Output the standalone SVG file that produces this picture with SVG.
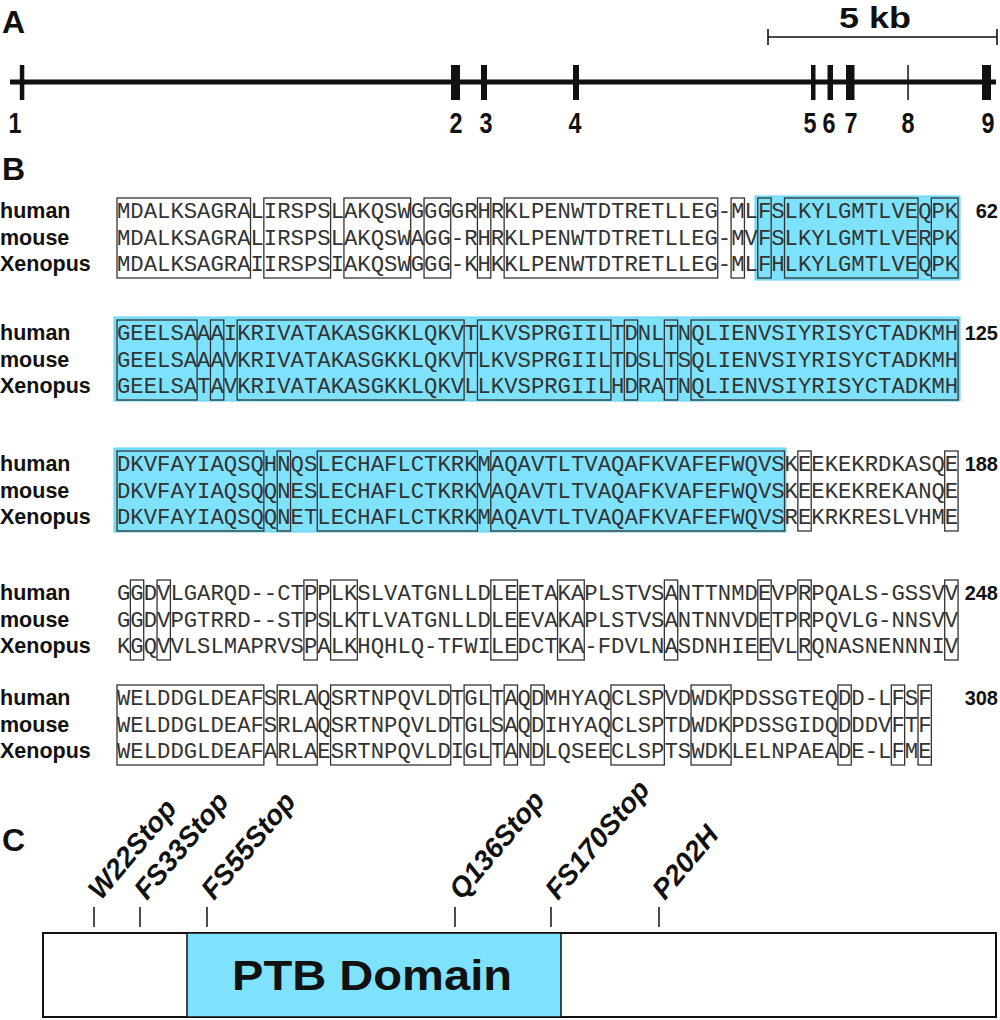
<svg xmlns="http://www.w3.org/2000/svg" width="1000" height="1020" viewBox="0 0 1000 1020">
<style>
.bg{fill:#fff}
.pl{font-family:"Liberation Sans",Arial,sans-serif;font-weight:bold;font-size:32px;fill:#111}
.ex{font-family:"Liberation Sans",Arial,sans-serif;font-weight:bold;font-size:30px;fill:#111;text-anchor:middle}
.seq{font-family:"Liberation Mono","Courier New",monospace;font-size:22.25px;fill:#333}
.lab{font-family:"Liberation Sans",Arial,sans-serif;font-weight:bold;font-size:21.5px;fill:#111}
.num{font-family:"Liberation Sans",Arial,sans-serif;font-weight:bold;font-size:20px;fill:#111;text-anchor:end}
.box{fill:none;stroke:#333;stroke-width:1.3}
.blue{fill:#7fe2fc;stroke:#5fd0f2;stroke-width:1}
.mut{font-family:"Liberation Sans",Arial,sans-serif;font-weight:bold;font-style:italic;font-size:28px;fill:#111}
.tick{stroke:#111;stroke-width:1.5}
</style>
<rect class="bg" x="0" y="0" width="1000" height="1020"/>

<g id="panel-a">
  <text class="pl" x="2" y="33">A</text>
  <text class="ex" x="875" y="28" textLength="72" lengthAdjust="spacingAndGlyphs">5 kb</text>
  <g id="scale-bar" stroke="#111" stroke-width="1.6">
    <line x1="768" y1="37" x2="997" y2="37"/>
    <line x1="768" y1="29" x2="768" y2="45"/>
    <line x1="997" y1="29" x2="997" y2="45"/>
  </g>
  <line id="gene-line" x1="10" y1="82" x2="996" y2="82" stroke="#111" stroke-width="5"/>
  <g id="exons" fill="#111">
    <rect x="19.8" y="65" width="4.5" height="35"/>
    <rect x="451" y="65" width="9" height="35"/>
    <rect x="481" y="65" width="6" height="35"/>
    <rect x="573" y="65" width="6" height="35"/>
    <rect x="811" y="65" width="4.5" height="35"/>
    <rect x="827.5" y="65" width="5.5" height="35"/>
    <rect x="846" y="65" width="8.5" height="35"/>
    <rect x="907.3" y="65" width="1.5" height="35"/>
    <rect x="982" y="65" width="9" height="35"/>
  </g>
  <g id="exon-numbers">
    <text class="ex" x="15" y="133" textLength="13" lengthAdjust="spacingAndGlyphs">1</text>
    <text class="ex" x="456" y="133" textLength="13" lengthAdjust="spacingAndGlyphs">2</text>
    <text class="ex" x="486" y="133" textLength="13" lengthAdjust="spacingAndGlyphs">3</text>
    <text class="ex" x="575" y="133" textLength="13" lengthAdjust="spacingAndGlyphs">4</text>
    <text class="ex" x="810" y="133" textLength="13" lengthAdjust="spacingAndGlyphs">5</text>
    <text class="ex" x="829" y="133" textLength="13" lengthAdjust="spacingAndGlyphs">6</text>
    <text class="ex" x="851" y="133" textLength="13" lengthAdjust="spacingAndGlyphs">7</text>
    <text class="ex" x="908" y="133" textLength="13" lengthAdjust="spacingAndGlyphs">8</text>
    <text class="ex" x="988" y="133" textLength="13" lengthAdjust="spacingAndGlyphs">9</text>
  </g>
</g>

<g id="panel-b">
  <text class="pl" x="2" y="180">B</text>

  <g id="block-1">
    <rect class="blue" x="755" y="196" width="205" height="84"/>
    <g class="boxes">
      <rect class="box" x="117" y="198" width="133.5" height="80"/>
      <rect class="box" x="263.85" y="198" width="66.75" height="80"/>
      <rect class="box" x="343.95" y="198" width="66.75" height="80"/>
      <rect class="box" x="424.05" y="198" width="26.7" height="80"/>
      <rect class="box" x="477.45" y="198" width="13.35" height="80"/>
      <rect class="box" x="504.15" y="198" width="213.6" height="80"/>
      <rect class="box" x="731.1" y="198" width="13.35" height="80"/>
      <rect class="box" x="757.8" y="198" width="13.35" height="80"/>
      <rect class="box" x="784.5" y="198" width="133.5" height="80"/>
      <rect class="box" x="931.35" y="198" width="26.7" height="80"/>
    </g>
    <text class="lab" x="0" y="218">human</text>
    <text class="lab" x="0" y="244.6">mouse</text>
    <text class="lab" x="0" y="271.2">Xenopus</text>
    <text class="seq" x="117" y="218">MDALKSAGRALIRSPSLAKQSWGGGGRHRKLPENWTDTRETLLEG-MLFSLKYLGMTLVEQPK</text>
    <text class="seq" x="117" y="244.6">MDALKSAGRALIRSPSLAKQSWAGG-RHRKLPENWTDTRETLLEG-MVFSLKYLGMTLVERPK</text>
    <text class="seq" x="117" y="271.2">MDALKSAGRAIIRSPSIAKQSWGGG-KHKKLPENWTDTRETLLEG-MLFHLKYLGMTLVEQPK</text>
    <text class="num" x="998" y="218">62</text>
  </g>

  <g id="block-2">
    <rect class="blue" x="114" y="317" width="846" height="84"/>
    <g class="boxes">
      <rect class="box" x="117" y="320" width="80.1" height="80"/>
      <rect class="box" x="210.45" y="320" width="13.35" height="80"/>
      <rect class="box" x="237.15" y="320" width="226.95" height="80"/>
      <rect class="box" x="477.45" y="320" width="133.5" height="80"/>
      <rect class="box" x="624.3" y="320" width="13.35" height="80"/>
      <rect class="box" x="664.35" y="320" width="13.35" height="80"/>
      <rect class="box" x="691.05" y="320" width="267" height="80"/>
    </g>
    <text class="lab" x="0" y="340">human</text>
    <text class="lab" x="0" y="366.6">mouse</text>
    <text class="lab" x="0" y="393.2">Xenopus</text>
    <text class="seq" x="117" y="340">GEELSAAAIKRIVATAKASGKKLQKVTLKVSPRGIILTDNLTNQLIENVSIYRISYCTADKMH</text>
    <text class="seq" x="117" y="366.6">GEELSAAAVKRIVATAKASGKKLQKVTLKVSPRGIILTDSLTSQLIENVSIYRISYCTADKMH</text>
    <text class="seq" x="117" y="393.2">GEELSATAVKRIVATAKASGKKLQKVLLKVSPRGIILHDRATNQLIENVSIYRISYCTADKMH</text>
    <text class="num" x="998" y="340">125</text>
  </g>

  <g id="block-3">
    <rect class="blue" x="114" y="448" width="672" height="84"/>
    <g class="boxes">
      <rect class="box" x="117" y="451" width="146.85" height="80"/>
      <rect class="box" x="277.2" y="451" width="13.35" height="80"/>
      <rect class="box" x="317.25" y="451" width="160.2" height="80"/>
      <rect class="box" x="490.8" y="451" width="293.7" height="80"/>
      <rect class="box" x="797.85" y="451" width="13.35" height="80"/>
      <rect class="box" x="944.7" y="451" width="13.35" height="80"/>
    </g>
    <text class="lab" x="0" y="471">human</text>
    <text class="lab" x="0" y="497.6">mouse</text>
    <text class="lab" x="0" y="524.2">Xenopus</text>
    <text class="seq" x="117" y="471">DKVFAYIAQSQHNQSLECHAFLCTKRKMAQAVTLTVAQAFKVAFEFWQVSKEEKEKRDKASQE</text>
    <text class="seq" x="117" y="497.6">DKVFAYIAQSQQNESLECHAFLCTKRKVAQAVTLTVAQAFKVAFEFWQVSKEEKEKREKANQE</text>
    <text class="seq" x="117" y="524.2">DKVFAYIAQSQQNETLECHAFLCTKRKMAQAVTLTVAQAFKVAFEFWQVSREKRKRESLVHME</text>
    <text class="num" x="998" y="471">188</text>
  </g>

  <g id="block-4">
    <g class="boxes">
      <rect class="box" x="130.35" y="580" width="13.35" height="80"/>
      <rect class="box" x="157.05" y="580" width="13.35" height="80"/>
      <rect class="box" x="303.9" y="580" width="13.35" height="80"/>
      <rect class="box" x="330.6" y="580" width="26.7" height="80"/>
      <rect class="box" x="490.8" y="580" width="26.7" height="80"/>
      <rect class="box" x="557.55" y="580" width="26.7" height="80"/>
      <rect class="box" x="664.35" y="580" width="13.35" height="80"/>
      <rect class="box" x="757.8" y="580" width="13.35" height="80"/>
      <rect class="box" x="797.85" y="580" width="13.35" height="80"/>
      <rect class="box" x="944.7" y="580" width="13.35" height="80"/>
    </g>
    <text class="lab" x="0" y="600">human</text>
    <text class="lab" x="0" y="626.6">mouse</text>
    <text class="lab" x="0" y="653.2">Xenopus</text>
    <text class="seq" x="117" y="600">GGDVLGARQD--CTPPLKSLVATGNLLDLEETAKAPLSTVSANTTNMDEVPRPQALS-GSSVV</text>
    <text class="seq" x="117" y="626.6">GGDVPGTRRD--STPSLKTLVATGNLLDLEEVAKAPLSTVSANTNNVDETPRPQVLG-NNSVV</text>
    <text class="seq" x="117" y="653.2">KGQVVLSLMAPRVSPALKHQHLQ-TFWILEDCTKA-FDVLNASDNHIEEVLRQNASNENNNIV</text>
    <text class="num" x="998" y="600">248</text>
  </g>

  <g id="block-5">
    <g class="boxes">
      <rect class="box" x="117" y="685" width="146.85" height="80"/>
      <rect class="box" x="277.2" y="685" width="40.05" height="80"/>
      <rect class="box" x="330.6" y="685" width="120.15" height="80"/>
      <rect class="box" x="464.1" y="685" width="26.7" height="80"/>
      <rect class="box" x="504.15" y="685" width="13.35" height="80"/>
      <rect class="box" x="530.85" y="685" width="13.35" height="80"/>
      <rect class="box" x="610.95" y="685" width="53.4" height="80"/>
      <rect class="box" x="691.05" y="685" width="40.05" height="80"/>
      <rect class="box" x="837.9" y="685" width="13.35" height="80"/>
      <rect class="box" x="891.3" y="685" width="13.35" height="80"/>
      <rect class="box" x="918" y="685" width="13.35" height="80"/>
    </g>
    <text class="lab" x="0" y="705">human</text>
    <text class="lab" x="0" y="731.6">mouse</text>
    <text class="lab" x="0" y="758.2">Xenopus</text>
    <text class="seq" x="117" y="705">WELDDGLDEAFSRLAQSRTNPQVLDTGLTAQDMHYAQCLSPVDWDKPDSSGTEQDD-LFSF</text>
    <text class="seq" x="117" y="731.6">WELDDGLDEAFSRLAQSRTNPQVLDTGLSAQDIHYAQCLSPTDWDKPDSSGIDQDDDVFTF</text>
    <text class="seq" x="117" y="758.2">WELDDGLDEAFARLAESRTNPQVLDIGLTANDLQSEECLSPTSWDKLELNPAEADE-LFME</text>
    <text class="num" x="998" y="705">308</text>
  </g>
</g>

<g id="panel-c">
  <text class="pl" x="2" y="851">C</text>
  <g id="protein">
    <rect x="43" y="933" width="953" height="84" fill="#fff" stroke="#111" stroke-width="2"/>
    <g id="ptb-domain">
      <rect x="187" y="933" width="374" height="84" fill="#7fe2fc" stroke="#111" stroke-width="1.5"/>
      <text x="372" y="990" text-anchor="middle" font-family="Liberation Sans, Arial, sans-serif" font-weight="bold" font-size="43" fill="#111" textLength="280" lengthAdjust="spacingAndGlyphs">PTB Domain</text>
    </g>
  </g>
  <g id="mutation-ticks">
    <line class="tick" x1="94" y1="907" x2="94" y2="927"/>
    <line class="tick" x1="140" y1="907" x2="140" y2="927"/>
    <line class="tick" x1="207" y1="907" x2="207" y2="927"/>
    <line class="tick" x1="455" y1="907" x2="455" y2="927"/>
    <line class="tick" x1="551" y1="907" x2="551" y2="927"/>
    <line class="tick" x1="659" y1="907" x2="659" y2="927"/>
  </g>
  <g id="mutation-labels">
    <text class="mut" transform="translate(101,901) rotate(-50)">W22Stop</text>
    <text class="mut" transform="translate(147,901) rotate(-50)">FS33Stop</text>
    <text class="mut" transform="translate(214,901) rotate(-50)">FS55Stop</text>
    <text class="mut" transform="translate(462,901) rotate(-50)">Q136Stop</text>
    <text class="mut" transform="translate(558,901) rotate(-50)">FS170Stop</text>
    <text class="mut" transform="translate(665,901) rotate(-50)">P202H</text>
  </g>
</g>
</svg>
